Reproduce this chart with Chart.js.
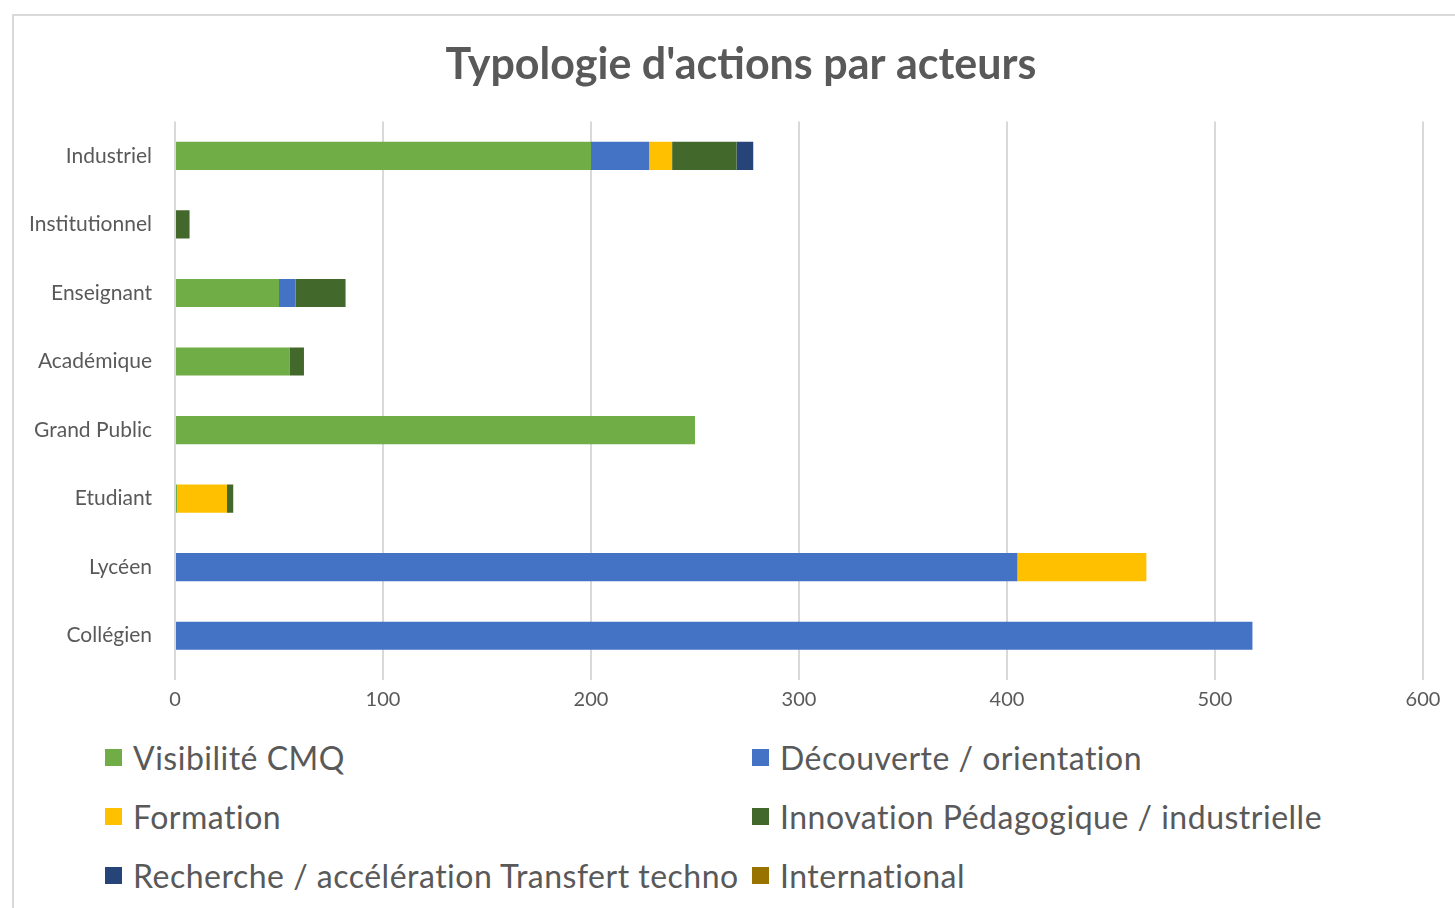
<!DOCTYPE html>
<html>
<head>
<meta charset="utf-8">
<script src="https://cdn.jsdelivr.net/npm/chart.js@4"></script>
<style>
  html, body { margin: 0; padding: 0; background: #fff; overflow: hidden; }
  #frame {
    position: absolute; left: 12px; top: 14px; width: 1460px; height: 900px;
    border-left: 2px solid #d9d9d9; border-top: 2px solid #d9d9d9; box-sizing: border-box;
  }
  #wrap { position: absolute; left: 12px; top: 14px; width: 1458px; height: 706px; }
  #legend {
    position: absolute; left: 105px; top: 728px;
    display: grid; grid-template-columns: 647px 650px; grid-auto-rows: 59px;
    font-family: Lato, "Open Sans", sans-serif; font-size: 32px; letter-spacing: 0.5px; color: #595959;
  }
  #legend div { display: flex; align-items: center; white-space: nowrap; }
  #legend span.box { width: 17px; height: 17px; margin-right: 11px; display: inline-block; }
</style>
</head>
<body>
<div id="frame"></div>
<div id="wrap"><canvas id="chart-area"></canvas></div>
<div id="legend"></div>
<script>
var categories = ['Industriel', 'Institutionnel', 'Enseignant', 'Académique', 'Grand Public', 'Etudiant', 'Lycéen', 'Collégien'];

var visibilite  = [200, 0, 50, 55, 250, 1, 0, 0];
var decouverte  = [28, 0, 8, 0, 0, 0, 405, 518];
var formation   = [11, 0, 0, 0, 0, 24, 62, 0];
var innovation  = [31, 7, 24, 7, 0, 3, 0, 0];
var recherche   = [8, 0, 0, 0, 0, 0, 0, 0];
var international = [0, 0, 0, 0, 0, 0, 0, 0];

var seriesNames = ['Visibilité CMQ', 'Découverte / orientation', 'Formation',
  'Innovation Pédagogique / industrielle', 'Recherche / accélération Transfert techno', 'International'];
var seriesColors = ['#70ad47', '#4472c4', '#ffc000', '#43682b', '#264478', '#997300'];
var seriesData = [visibilite, decouverte, formation, innovation, recherche, international];

var textColor = '#595959';
var fontFamily = 'Lato, "Open Sans", sans-serif';

var datasets = seriesData.map(function(d, i) {
  return {
    label: seriesNames[i],
    data: d,
    backgroundColor: seriesColors[i],
    borderWidth: 0,
    barPercentage: 0.82,
    categoryPercentage: 0.5
  };
});

var config = {
  type: 'bar',
  data: { labels: categories, datasets: datasets },
  options: {
    indexAxis: 'y',
    responsive: true,
    maintainAspectRatio: false,
    animation: false,
    layout: { padding: 0 },
    plugins: {
      legend: { display: false },
      tooltip: { enabled: false },
      title: {
        display: true,
        text: "Typologie d'actions par acteurs",
        color: textColor,
        font: { family: fontFamily, size: 43, weight: 'bold' },
        padding: { top: 25, bottom: 31 }
      }
    },
    scales: {
      x: {
        stacked: true,
        min: 0,
        max: 600,
        ticks: { stepSize: 100, color: textColor, padding: 8, font: { family: fontFamily, size: 20 } },
        grid: { color: '#d9d9d9', lineWidth: 2, tickLength: 10, drawTicks: true },
        border: { display: false }
      },
      y: {
        stacked: true,
        ticks: { color: textColor, padding: 23, font: { family: fontFamily, size: 21 } },
        grid: { display: false, drawTicks: false },
        border: { display: false },
        afterFit: function(scale) { scale.width = 163; }
      },
      // empty spacer on the right so the title stays centred on the whole box
      yRight: {
        position: 'right',
        ticks: { display: false },
        grid: { display: false, drawTicks: false },
        border: { display: false },
        afterFit: function(scale) { scale.width = 47; }
      }
    }
  }
};

window.onload = function() {
  var ctx = document.getElementById('chart-area').getContext('2d');
  window.myBar = new Chart(ctx, config);

  var legend = document.getElementById('legend');
  datasets.forEach(function(ds) {
    var item = document.createElement('div');
    var box = document.createElement('span');
    box.className = 'box';
    box.style.background = ds.backgroundColor;
    item.appendChild(box);
    item.appendChild(document.createTextNode(ds.label));
    legend.appendChild(item);
  });
};
</script>
</body>
</html>
